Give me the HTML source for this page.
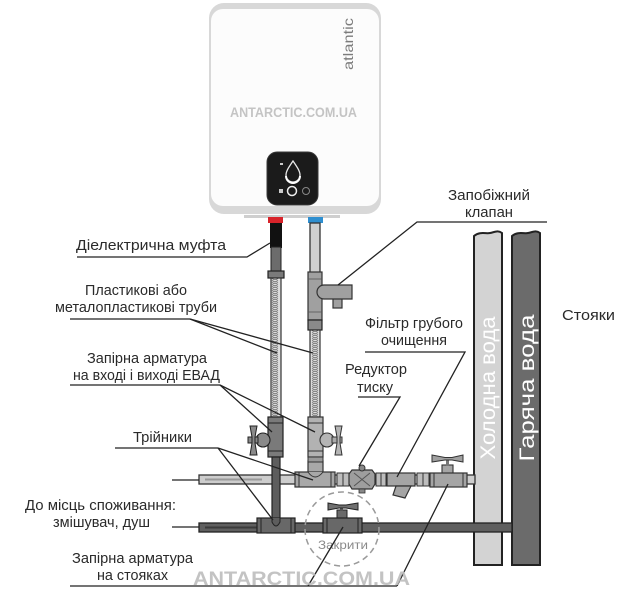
<!DOCTYPE html>
<html>
<head>
<meta charset="utf-8">
<style>
html,body{margin:0;padding:0;background:#fff;}
svg{display:block;}
text{font-family:"Liberation Sans","DejaVu Sans",sans-serif;}
</style>
</head>
<body>
<svg width="640" height="597" viewBox="0 0 640 597" xmlns="http://www.w3.org/2000/svg">
<defs>
  <pattern id="hose" x="0" y="0" width="10" height="4" patternUnits="userSpaceOnUse">
    <rect width="10" height="4" fill="#dedede"/>
    <path d="M2,0.5 L5,2 L8,0.5 M2,2.5 L5,4 L8,2.5" stroke="#666" stroke-width="0.9" fill="none"/>
  </pattern>
</defs>
<rect width="640" height="597" fill="#fff"/>

<!-- Boiler -->
<rect x="209" y="3" width="172" height="211" rx="15" fill="#d8d8d8"/>
<rect x="211" y="9" width="168" height="197" rx="12" fill="#fcfcfc"/>
<rect x="244" y="215" width="96" height="3" fill="#cfcfcf"/>
<text transform="translate(353,44) rotate(-90)" font-size="14" fill="#7c7c7c" text-anchor="middle" textLength="52" lengthAdjust="spacingAndGlyphs">atlantic</text>
<text x="293.5" y="117" font-size="14" font-weight="bold" fill="#c4c4c4" text-anchor="middle" textLength="127" lengthAdjust="spacingAndGlyphs">ANTARCTIC.COM.UA</text>
<!-- control panel -->
<rect x="267" y="152" width="51" height="53" rx="10" fill="#1b1b1b" stroke="#3a3a3a" stroke-width="1"/>
<path d="M293,161 C289,167 286,171 286,175 A7,7 0 0 0 300,175 C300,171 297,167 293,161 Z" fill="none" stroke="#e8e8e8" stroke-width="1.3"/>
<path d="M286,176 A7,7 0 0 0 300,176" fill="none" stroke="#fff" stroke-width="2"/>
<rect x="279" y="189" width="4" height="4" fill="#ccc"/>
<circle cx="292" cy="191" r="4.5" fill="none" stroke="#eee" stroke-width="1.5"/>
<circle cx="306" cy="191" r="3.5" fill="none" stroke="#888" stroke-width="1"/>
<rect x="280" y="163" width="3" height="2" fill="#ccc"/>

<!-- connectors -->
<rect x="268" y="217" width="15" height="6" fill="#d8232a"/>
<rect x="308" y="217" width="15" height="6" fill="#2f8fd0"/>

<!-- Risers -->
<path d="M474,565 L474,236 C480,231 486,234 490,233 C495,232 498,230 502,233 L502,565 Z" fill="#d3d3d3" stroke="#222" stroke-width="2"/>
<path d="M512,565 L512,236 C518,231 524,234 528,233 C533,232 536,230 540,233 L540,565 Z" fill="#6b6b6b" stroke="#222" stroke-width="2"/>
<text transform="translate(495,388) rotate(-90)" font-size="21" fill="#fff" text-anchor="middle" textLength="143" lengthAdjust="spacingAndGlyphs">Холодна вода</text>
<text transform="translate(534,388) rotate(-90)" font-size="21" fill="#fff" text-anchor="middle" textLength="147" lengthAdjust="spacingAndGlyphs">Гаряча вода</text>

<!-- Left (hot) pipe from boiler -->
<rect x="270" y="223" width="12" height="25" fill="#111"/>
<rect x="271" y="247" width="10" height="25" fill="#6c6c6c" stroke="#222" stroke-width="1"/>
<rect x="268" y="271" width="16" height="7" fill="#7a7a7a" stroke="#222" stroke-width="1.2"/>
<rect x="271" y="278" width="10" height="139" fill="url(#hose)" stroke="#333" stroke-width="1.2"/>

<!-- Right (cold) pipe from boiler -->
<rect x="310" y="223" width="10" height="50" fill="#d0d0d0" stroke="#333" stroke-width="1.3"/>
<rect x="308" y="272" width="14" height="48" fill="#a0a0a0" stroke="#333" stroke-width="1.2"/>
<line x1="308" y1="279" x2="322" y2="279" stroke="#555" stroke-width="0.8"/>
<line x1="308" y1="312" x2="322" y2="312" stroke="#555" stroke-width="0.8"/>
<rect x="333" y="298" width="9" height="10" fill="#a0a0a0" stroke="#333" stroke-width="1.2"/>
<path d="M324,285 L352,285 L352,299 L324,299 A7,7 0 0 1 324,285 Z" fill="#a0a0a0" stroke="#333" stroke-width="1.2"/>
<rect x="308" y="320" width="14" height="10" fill="#8a8a8a" stroke="#222" stroke-width="1.2"/>
<rect x="310" y="330" width="10" height="87" fill="url(#hose)" stroke="#333" stroke-width="1.2"/>

<!-- Cold horizontal pipe -->
<rect x="199" y="475" width="276" height="9" fill="#cdcdcd" stroke="#333" stroke-width="1.3"/>
<line x1="205" y1="479.5" x2="262" y2="479.5" stroke="#999" stroke-width="2"/>
<!-- upper tee -->
<rect x="308" y="461" width="15" height="14" fill="#a8a8a8" stroke="#333" stroke-width="1.2"/>
<rect x="295" y="472" width="40" height="15" fill="#a8a8a8" stroke="#333" stroke-width="1.2"/>
<path d="M308,472 Q315,482 323,472" fill="#a8a8a8" stroke="#333" stroke-width="1"/>
<line x1="299" y1="472" x2="299" y2="487" stroke="#333"/>
<line x1="331" y1="472" x2="331" y2="487" stroke="#333"/>
<!-- couplings -->
<rect x="337" y="473" width="12" height="13" fill="#bdbdbd" stroke="#333" stroke-width="1"/>
<line x1="343" y1="473" x2="343" y2="486" stroke="#333"/>
<!-- reducer -->
<path d="M352,470 L372,470 L375,474 L375,484 L372,489 L352,489 L349,484 L349,474 Z" fill="#9e9e9e" stroke="#333" stroke-width="1.2"/>
<path d="M354,473 L370,486 M370,473 L354,486" stroke="#555" stroke-width="1"/>
<circle cx="362" cy="468" r="3" fill="#888" stroke="#333"/>
<rect x="359" y="489" width="6" height="4" fill="#888" stroke="#333" stroke-width="0.8"/>
<rect x="376" y="473" width="10" height="13" fill="#bdbdbd" stroke="#333" stroke-width="1"/>
<line x1="381" y1="473" x2="381" y2="486" stroke="#333"/>
<!-- filter -->
<rect x="387" y="473" width="28" height="13" fill="#a5a5a5" stroke="#333" stroke-width="1.2"/>
<path d="M396,486 L411,486 L405,498 L393,495 Z" fill="#a5a5a5" stroke="#333" stroke-width="1.2"/>
<rect x="417" y="473" width="12" height="13" fill="#bdbdbd" stroke="#333" stroke-width="1"/>
<line x1="423" y1="473" x2="423" y2="486" stroke="#333"/>
<!-- valve on cold riser -->
<rect x="442" y="465" width="11" height="9" fill="#a5a5a5" stroke="#333" stroke-width="1.1"/>
<rect x="446" y="460" width="3" height="6" fill="#777"/>
<path d="M432,455 L445,457.5 L452,457.5 L463,455 L463,462 L452,460 L445,460 L432,462 Z" fill="#a0a0a0" stroke="#333" stroke-width="1"/>
<rect x="430" y="473" width="37" height="14" fill="#a5a5a5" stroke="#333" stroke-width="1.2"/>
<line x1="434" y1="473" x2="434" y2="487" stroke="#333"/>
<line x1="463" y1="473" x2="463" y2="487" stroke="#333"/>

<!-- Valves on boiler pipes -->
<rect x="268" y="417" width="15" height="40" fill="#7a7a7a" stroke="#222" stroke-width="1.2"/>
<line x1="268" y1="423" x2="283" y2="423" stroke="#222"/>
<line x1="268" y1="451" x2="283" y2="451" stroke="#222"/>
<circle cx="263" cy="440" r="7" fill="#8a8a8a" stroke="#222" stroke-width="1.1"/>
<rect x="248" y="437" width="10" height="6" fill="#888" stroke="#222" stroke-width="1"/>
<path d="M250,426 L257,426 L255,437 L255,443 L257,455 L250,455 L252,443 L252,437 Z" fill="#8a8a8a" stroke="#222" stroke-width="1"/>
<rect x="308" y="417" width="15" height="40" fill="#b2b2b2" stroke="#333" stroke-width="1.2"/>
<line x1="308" y1="423" x2="323" y2="423" stroke="#333"/>
<line x1="308" y1="451" x2="323" y2="451" stroke="#333"/>
<circle cx="327" cy="440" r="7" fill="#b5b5b5" stroke="#333" stroke-width="1.1"/>
<rect x="332" y="437" width="10" height="6" fill="#aaa" stroke="#333" stroke-width="1"/>
<path d="M335,426 L342,426 L340,437 L340,443 L342,455 L335,455 L337,443 L337,437 Z" fill="#b5b5b5" stroke="#333" stroke-width="1"/>
<rect x="308" y="457" width="15" height="5" fill="#999" stroke="#333" stroke-width="1"/>

<!-- Left pipe down to lower tee -->
<rect x="272" y="457" width="8" height="62" fill="#5d5d5d" stroke="#222" stroke-width="1.2"/>

<!-- Hot horizontal pipe -->
<rect x="199" y="523" width="313" height="9" fill="#5f5f5f" stroke="#222" stroke-width="1.3"/>
<line x1="205" y1="527.5" x2="262" y2="527.5" stroke="#3a3a3a" stroke-width="2"/>
<rect x="257" y="518" width="38" height="15" fill="#686868" stroke="#222" stroke-width="1.2"/>
<path d="M272,518 L272,522 Q276,530 280,522 L280,518" fill="#5d5d5d" stroke="#222" stroke-width="1"/>
<line x1="261" y1="518" x2="261" y2="533" stroke="#222"/>
<line x1="291" y1="518" x2="291" y2="533" stroke="#222"/>
<rect x="337" y="510" width="10" height="9" fill="#6a6a6a" stroke="#222" stroke-width="1"/>
<rect x="340" y="506" width="3" height="5" fill="#555"/>
<path d="M328,503 L339,505 L346,505 L358,503 L358,510 L346,508 L339,508 L328,510 Z" fill="#707070" stroke="#222" stroke-width="1"/>
<rect x="323" y="518" width="39" height="15" fill="#686868" stroke="#222" stroke-width="1.2"/>
<line x1="327" y1="518" x2="327" y2="533" stroke="#222"/>
<line x1="358" y1="518" x2="358" y2="533" stroke="#222"/>

<!-- dashed circle -->
<circle cx="342" cy="529" r="37" fill="none" stroke="#9a9a9a" stroke-width="1.5" stroke-dasharray="6 4"/>
<text x="343" y="549" font-size="12" fill="#8a8a8a" text-anchor="middle" textLength="50" lengthAdjust="spacingAndGlyphs">Закрити</text>

<!-- stubs -->
<line x1="172" y1="480" x2="199" y2="480" stroke="#222" stroke-width="1.3"/>
<line x1="172" y1="527" x2="199" y2="527" stroke="#222" stroke-width="1.3"/>

<!-- Leader lines -->
<g stroke="#222" stroke-width="1.3" fill="none">
  <polyline points="77,257 247,257 270,243"/>
  <line x1="70" y1="319" x2="190" y2="319"/>
  <line x1="190" y1="319" x2="277" y2="353"/>
  <line x1="190" y1="319" x2="313" y2="353"/>
  <line x1="70" y1="385" x2="220" y2="385"/>
  <line x1="220" y1="385" x2="272" y2="432"/>
  <line x1="220" y1="385" x2="315" y2="432"/>
  <line x1="115" y1="448" x2="218" y2="448"/>
  <line x1="218" y1="448" x2="273" y2="520"/>
  <line x1="218" y1="448" x2="313" y2="480"/>
  <line x1="70" y1="586" x2="397" y2="586"/>
  <line x1="308" y1="586" x2="343" y2="527"/>
  <line x1="397" y1="586" x2="448" y2="484"/>
  <polyline points="547,222 417,222 338,285"/>
  <polyline points="365,352 465,352 397,477"/>
  <polyline points="358,397 400,397 359,466"/>
</g>

<!-- Labels -->
<g font-size="15" fill="#2a2a2a">
  <text x="76" y="250" textLength="150" lengthAdjust="spacingAndGlyphs">Діелектрична муфта</text>
  <text x="85" y="295" textLength="102" lengthAdjust="spacingAndGlyphs">Пластикові або</text>
  <text x="55" y="312" textLength="162" lengthAdjust="spacingAndGlyphs">металопластикові труби</text>
  <text x="87" y="363" textLength="120" lengthAdjust="spacingAndGlyphs">Запірна арматура</text>
  <text x="73" y="380" textLength="147" lengthAdjust="spacingAndGlyphs">на вході і виході ЕВАД</text>
  <text x="133" y="442" textLength="59" lengthAdjust="spacingAndGlyphs">Трійники</text>
  <text x="25" y="510" textLength="151" lengthAdjust="spacingAndGlyphs">До місць споживання:</text>
  <text x="53" y="527" textLength="97" lengthAdjust="spacingAndGlyphs">змішувач, душ</text>
  <text x="72" y="563" textLength="121" lengthAdjust="spacingAndGlyphs">Запірна арматура</text>
  <text x="97" y="580" textLength="71" lengthAdjust="spacingAndGlyphs">на стояках</text>
  <text x="448" y="200" textLength="82" lengthAdjust="spacingAndGlyphs">Запобіжний</text>
  <text x="465" y="217" textLength="48" lengthAdjust="spacingAndGlyphs">клапан</text>
  <text x="562" y="320" textLength="53" lengthAdjust="spacingAndGlyphs">Стояки</text>
  <text x="365" y="328" textLength="98" lengthAdjust="spacingAndGlyphs">Фільтр грубого</text>
  <text x="381" y="345" textLength="66" lengthAdjust="spacingAndGlyphs">очищення</text>
  <text x="345" y="374" textLength="62" lengthAdjust="spacingAndGlyphs">Редуктор</text>
  <text x="357" y="392" textLength="36" lengthAdjust="spacingAndGlyphs">тиску</text>
</g>

<!-- bottom watermark -->
<text x="301.5" y="585" font-size="19" font-weight="bold" fill="#bdbdbd" fill-opacity="0.9" text-anchor="middle" textLength="217" lengthAdjust="spacingAndGlyphs">ANTARCTIC.COM.UA</text>
</svg>
</body>
</html>
